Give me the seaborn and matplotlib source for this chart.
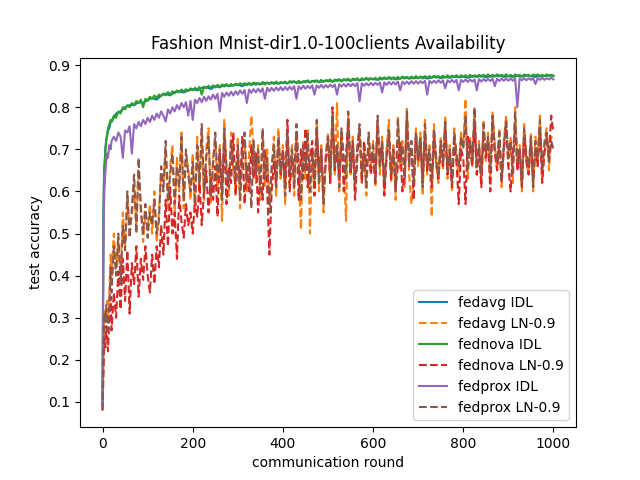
import numpy as np
import pandas as pd
import matplotlib
matplotlib.use("Agg")
import matplotlib.pyplot as plt
import seaborn as sns

# rounds
rounds_coarse = [0, 1, 2, 3, 4, 5, 6, 8, 10, 12, 15, 18, 20, 25] + list(range(30, 1001, 10))
rounds_fine = [0, 1, 2, 3, 4, 6, 8, 10, 12, 15, 18, 20] + list(range(25, 1001, 5))

fedavg_idl = (
    [0.10, 0.34, 0.54, 0.61, 0.66, 0.67, 0.70, 0.72, 0.735, 0.745, 0.75, 0.765, 0.765, 0.775]
    + [0.785, 0.79, 0.80, 0.805, 0.805, 0.812, 0.81]
    + [0.818, 0.822, 0.818, 0.828, 0.832, 0.828, 0.836, 0.838, 0.835, 0.84]
    + [0.843, 0.84, 0.846, 0.848, 0.843, 0.85, 0.847, 0.853, 0.85, 0.852]
    + [0.854, 0.85, 0.856, 0.853, 0.857, 0.854, 0.858, 0.856, 0.858, 0.856]
    + [0.859, 0.857, 0.861, 0.859, 0.858, 0.862, 0.86, 0.863, 0.86, 0.862]
    + [0.864, 0.861, 0.865, 0.863, 0.866, 0.863, 0.867, 0.864, 0.866, 0.868]
    + [0.867, 0.865, 0.869, 0.867, 0.87, 0.866, 0.869, 0.871, 0.868, 0.87]
    + [0.869, 0.872, 0.868, 0.871, 0.873, 0.869, 0.872, 0.87, 0.873, 0.871]
    + [0.873, 0.87, 0.874, 0.872, 0.875, 0.871, 0.874, 0.873, 0.876, 0.872]
    + [0.874, 0.872, 0.875, 0.873, 0.876, 0.874, 0.872, 0.875, 0.874, 0.876]
    + [0.874]
)

fednova_idl = (
    [0.10, 0.35, 0.55, 0.62, 0.66, 0.69, 0.72, 0.73, 0.75, 0.76, 0.77, 0.765]
    + [0.78, 0.775, 0.79, 0.785, 0.80, 0.795, 0.805, 0.80, 0.81, 0.805, 0.815, 0.81, 0.818, 0.80, 0.82]
    + [0.815, 0.825, 0.82, 0.828, 0.822, 0.83, 0.826, 0.833, 0.828, 0.836, 0.83, 0.838, 0.833, 0.84, 0.835, 0.842, 0.837, 0.843, 0.839, 0.845]
    + [0.84, 0.846, 0.842, 0.848, 0.83, 0.849, 0.845, 0.851, 0.846, 0.852, 0.847, 0.853, 0.848, 0.854, 0.849, 0.855, 0.85, 0.855, 0.851, 0.856]
    + [0.852, 0.857, 0.853, 0.857, 0.852, 0.858, 0.854, 0.859, 0.853, 0.858, 0.855, 0.86, 0.854, 0.859, 0.856, 0.86, 0.855, 0.861, 0.856, 0.86]
    + [0.857, 0.861, 0.856, 0.862, 0.858, 0.862, 0.857, 0.863, 0.858, 0.862, 0.859, 0.864, 0.858, 0.863, 0.86, 0.864, 0.859, 0.865, 0.86, 0.864]
    + [0.861, 0.866, 0.86, 0.866, 0.862, 0.867, 0.861, 0.867, 0.863, 0.868, 0.862, 0.868, 0.864, 0.869, 0.863, 0.869, 0.865, 0.87, 0.864, 0.869]
    + [0.866, 0.87, 0.865, 0.871, 0.866, 0.871, 0.867, 0.872, 0.866, 0.871, 0.868, 0.872, 0.867, 0.873, 0.868, 0.872, 0.869, 0.873, 0.868, 0.874]
    + [0.869, 0.873, 0.868, 0.874, 0.87, 0.874, 0.869, 0.875, 0.87, 0.874, 0.871, 0.875, 0.87, 0.876, 0.871, 0.875, 0.872, 0.876, 0.871, 0.876]
    + [0.872, 0.876, 0.871, 0.877, 0.872, 0.876, 0.873, 0.877, 0.872, 0.877, 0.873, 0.878, 0.872, 0.877, 0.874, 0.878, 0.873, 0.877, 0.874, 0.878]
    + [0.873, 0.877, 0.872, 0.878, 0.874, 0.877, 0.873, 0.878, 0.874, 0.877, 0.873, 0.878, 0.875, 0.878, 0.873, 0.877, 0.874, 0.878, 0.874, 0.877]
    + [0.875]
)

fedprox_idl = (
    [0.09, 0.28, 0.45, 0.55, 0.60, 0.64, 0.67, 0.69, 0.68, 0.71, 0.70, 0.72]
    + [0.73, 0.72, 0.74, 0.73, 0.68, 0.745, 0.74, 0.755, 0.69, 0.76, 0.75, 0.765, 0.755, 0.77, 0.76]
    + [0.775, 0.765, 0.78, 0.77, 0.785, 0.775, 0.79, 0.78, 0.766, 0.795, 0.785, 0.80, 0.79, 0.805, 0.795, 0.81, 0.80, 0.812, 0.78, 0.815]
    + [0.77, 0.818, 0.81, 0.822, 0.812, 0.825, 0.815, 0.826, 0.818, 0.83, 0.82, 0.832, 0.79, 0.834, 0.825, 0.835, 0.827, 0.837, 0.828, 0.838]
    + [0.83, 0.84, 0.832, 0.841, 0.81, 0.842, 0.834, 0.843, 0.835, 0.844, 0.836, 0.845, 0.82, 0.846, 0.838, 0.846, 0.839, 0.847, 0.84, 0.848]
    + [0.84, 0.848, 0.841, 0.849, 0.842, 0.85, 0.82, 0.85, 0.843, 0.851, 0.844, 0.851, 0.845, 0.852, 0.83, 0.852, 0.846, 0.853, 0.846, 0.853]
    + [0.847, 0.854, 0.848, 0.854, 0.83, 0.855, 0.849, 0.855, 0.849, 0.856, 0.85, 0.856, 0.85, 0.857, 0.814, 0.857, 0.851, 0.857, 0.852, 0.858]
    + [0.852, 0.858, 0.853, 0.859, 0.835, 0.859, 0.853, 0.86, 0.854, 0.86, 0.854, 0.861, 0.84, 0.861, 0.855, 0.861, 0.855, 0.862, 0.856, 0.862]
    + [0.856, 0.862, 0.857, 0.863, 0.83, 0.863, 0.857, 0.863, 0.858, 0.864, 0.858, 0.864, 0.845, 0.864, 0.859, 0.865, 0.859, 0.865, 0.84, 0.865]
    + [0.86, 0.866, 0.86, 0.866, 0.861, 0.866, 0.84, 0.867, 0.861, 0.867, 0.862, 0.867, 0.862, 0.868, 0.85, 0.868, 0.862, 0.868, 0.863, 0.868]
    + [0.863, 0.868, 0.863, 0.869, 0.80, 0.869, 0.864, 0.869, 0.864, 0.869, 0.865, 0.869, 0.855, 0.869, 0.865, 0.87, 0.865, 0.869, 0.866, 0.87]
    + [0.866]
)

fedavg_ln = (
    [0.09, 0.14, 0.21, 0.26, 0.30, 0.32, 0.31, 0.34, 0.30, 0.36, 0.45, 0.40]
    + [0.50, 0.42, 0.48, 0.40, 0.55, 0.47, 0.58, 0.52, 0.54, 0.61, 0.52, 0.65, 0.57, 0.48, 0.55]
    + [0.51, 0.57, 0.50, 0.60, 0.48, 0.55, 0.64, 0.62, 0.70, 0.56, 0.66, 0.71, 0.55, 0.68, 0.60, 0.74, 0.56, 0.68, 0.66, 0.58]
    + [0.69, 0.55, 0.73, 0.60, 0.74, 0.58, 0.70, 0.75, 0.57, 0.68, 0.72, 0.61, 0.71, 0.53, 0.77, 0.64, 0.59, 0.74, 0.65, 0.61]
    + [0.73, 0.56, 0.70, 0.72, 0.60, 0.69, 0.78, 0.70, 0.62, 0.71, 0.58, 0.73, 0.61, 0.70, 0.57, 0.64, 0.73, 0.59, 0.75, 0.63]
    + [0.71, 0.57, 0.72, 0.62, 0.71, 0.59, 0.74, 0.64, 0.51, 0.72, 0.63, 0.75, 0.50, 0.70, 0.61, 0.76, 0.60, 0.71, 0.55, 0.69]
    + [0.74, 0.62, 0.77, 0.64, 0.81, 0.60, 0.73, 0.66, 0.53, 0.78, 0.64, 0.73, 0.60, 0.71, 0.75, 0.62, 0.70, 0.59, 0.73, 0.66]
    + [0.72, 0.61, 0.76, 0.64, 0.73, 0.60, 0.70, 0.77, 0.62, 0.71, 0.58, 0.78, 0.65, 0.72, 0.61, 0.80, 0.64, 0.57, 0.63, 0.75]
    + [0.66, 0.74, 0.59, 0.77, 0.64, 0.71, 0.54, 0.76, 0.66, 0.62, 0.73, 0.65, 0.78, 0.63, 0.71, 0.60, 0.75, 0.67, 0.64, 0.74]
    + [0.71, 0.82, 0.63, 0.73, 0.66, 0.79, 0.64, 0.72, 0.62, 0.77, 0.67, 0.74, 0.63, 0.79, 0.71, 0.65, 0.75, 0.61, 0.72, 0.78]
    + [0.66, 0.73, 0.62, 0.80, 0.65, 0.71, 0.60, 0.76, 0.67, 0.64, 0.74, 0.60, 0.73, 0.66, 0.78, 0.63, 0.72, 0.75, 0.65, 0.73]
    + [0.72]
)

fednova_ln = (
    [0.08, 0.12, 0.17, 0.21, 0.25, 0.23, 0.28, 0.26, 0.22, 0.30, 0.35, 0.27]
    + [0.36, 0.30, 0.41, 0.32, 0.44, 0.34, 0.46, 0.31, 0.43, 0.38, 0.47, 0.35, 0.44, 0.39, 0.47]
    + [0.40, 0.36, 0.45, 0.38, 0.47, 0.42, 0.52, 0.45, 0.58, 0.47, 0.61, 0.50, 0.55, 0.44, 0.59, 0.53, 0.49, 0.57, 0.52, 0.55]
    + [0.50, 0.58, 0.54, 0.62, 0.52, 0.60, 0.65, 0.55, 0.63, 0.58, 0.66, 0.54, 0.69, 0.60, 0.72, 0.57, 0.66, 0.62, 0.74, 0.59]
    + [0.68, 0.62, 0.73, 0.57, 0.66, 0.60, 0.71, 0.63, 0.69, 0.55, 0.64, 0.58, 0.70, 0.61, 0.45, 0.60, 0.67, 0.62, 0.72, 0.64]
    + [0.70, 0.62, 0.77, 0.60, 0.68, 0.65, 0.73, 0.58, 0.70, 0.63, 0.75, 0.61, 0.68, 0.72, 0.59, 0.74, 0.65, 0.70, 0.60, 0.67]
    + [0.72, 0.62, 0.80, 0.65, 0.70, 0.63, 0.74, 0.60, 0.69, 0.77, 0.64, 0.71, 0.58, 0.68, 0.75, 0.62, 0.72, 0.66, 0.70, 0.64]
    + [0.69, 0.62, 0.76, 0.67, 0.71, 0.59, 0.68, 0.73, 0.63, 0.70, 0.61, 0.66, 0.72, 0.60, 0.64, 0.77, 0.68, 0.70, 0.58, 0.73]
    + [0.67, 0.72, 0.62, 0.74, 0.65, 0.69, 0.61, 0.73, 0.67, 0.63, 0.71, 0.66, 0.75, 0.64, 0.69, 0.61, 0.72, 0.67, 0.57, 0.70]
    + [0.68, 0.57, 0.73, 0.70, 0.66, 0.76, 0.64, 0.70, 0.61, 0.74, 0.68, 0.72, 0.60, 0.77, 0.69, 0.65, 0.72, 0.62, 0.70, 0.75]
    + [0.66, 0.60, 0.69, 0.76, 0.65, 0.70, 0.61, 0.73, 0.67, 0.64, 0.72, 0.63, 0.70, 0.66, 0.75, 0.62, 0.69, 0.73, 0.68, 0.78]
    + [0.74]
)

fedprox_ln = (
    [0.08, 0.16, 0.22, 0.27, 0.31, 0.29, 0.33, 0.30, 0.27, 0.33, 0.42, 0.36]
    + [0.47, 0.40, 0.50, 0.38, 0.52, 0.46, 0.60, 0.49, 0.56, 0.64, 0.50, 0.68, 0.55, 0.50, 0.57]
    + [0.49, 0.55, 0.52, 0.58, 0.50, 0.53, 0.66, 0.60, 0.72, 0.58, 0.64, 0.69, 0.57, 0.66, 0.61, 0.73, 0.58, 0.70, 0.64, 0.60]
    + [0.67, 0.57, 0.71, 0.62, 0.76, 0.60, 0.68, 0.73, 0.59, 0.66, 0.74, 0.63, 0.70, 0.58, 0.75, 0.66, 0.61, 0.72, 0.67, 0.63]
    + [0.71, 0.58, 0.69, 0.74, 0.62, 0.67, 0.56, 0.72, 0.64, 0.70, 0.60, 0.75, 0.63, 0.68, 0.55, 0.66, 0.71, 0.61, 0.73, 0.65]
    + [0.69, 0.59, 0.74, 0.64, 0.70, 0.61, 0.76, 0.66, 0.58, 0.71, 0.65, 0.74, 0.60, 0.69, 0.63, 0.77, 0.62, 0.70, 0.57, 0.68]
    + [0.73, 0.64, 0.78, 0.66, 0.71, 0.61, 0.75, 0.68, 0.63, 0.79, 0.65, 0.72, 0.62, 0.70, 0.76, 0.64, 0.69, 0.61, 0.74, 0.67]
    + [0.71, 0.63, 0.78, 0.66, 0.72, 0.62, 0.69, 0.75, 0.64, 0.70, 0.60, 0.77, 0.67, 0.71, 0.63, 0.79, 0.66, 0.72, 0.62, 0.74]
    + [0.68, 0.73, 0.61, 0.76, 0.66, 0.70, 0.63, 0.75, 0.68, 0.64, 0.72, 0.67, 0.77, 0.65, 0.70, 0.62, 0.74, 0.69, 0.66, 0.73]
    + [0.70, 0.78, 0.65, 0.72, 0.68, 0.80, 0.66, 0.71, 0.64, 0.76, 0.69, 0.73, 0.65, 0.78, 0.70, 0.67, 0.74, 0.63, 0.71, 0.77]
    + [0.68, 0.72, 0.64, 0.79, 0.67, 0.70, 0.62, 0.75, 0.69, 0.66, 0.73, 0.61, 0.72, 0.68, 0.77, 0.65, 0.71, 0.74, 0.67, 0.72]
    + [0.70]
)

series = [
    ("fedavg IDL", rounds_coarse, fedavg_idl, "-"),
    ("fedavg LN-0.9", rounds_fine, fedavg_ln, "--"),
    ("fednova IDL", rounds_fine, fednova_idl, "-"),
    ("fednova LN-0.9", rounds_fine, fednova_ln, "--"),
    ("fedprox IDL", rounds_fine, fedprox_idl, "-"),
    ("fedprox LN-0.9", rounds_fine, fedprox_ln, "--"),
]
colors = sns.color_palette("tab10", 6)

fig, ax = plt.subplots(figsize=(6.4, 4.8), dpi=100)
for (name, xs, ys, ls), c in zip(series, colors):
    n = min(len(xs), len(ys))
    df = pd.DataFrame({"round": xs[:n], "acc": ys[:n]})
    sns.lineplot(data=df, x="round", y="acc", ax=ax, color=c, linestyle=ls,
                 linewidth=1.5, label=name, estimator=None, sort=False)

ax.set_title("Fashion Mnist-dir1.0-100clients Availability")
ax.set_xlabel("communication round")
ax.set_ylabel("test accuracy")
ax.legend(loc="lower right")
fig.savefig("out.png", dpi=100)
